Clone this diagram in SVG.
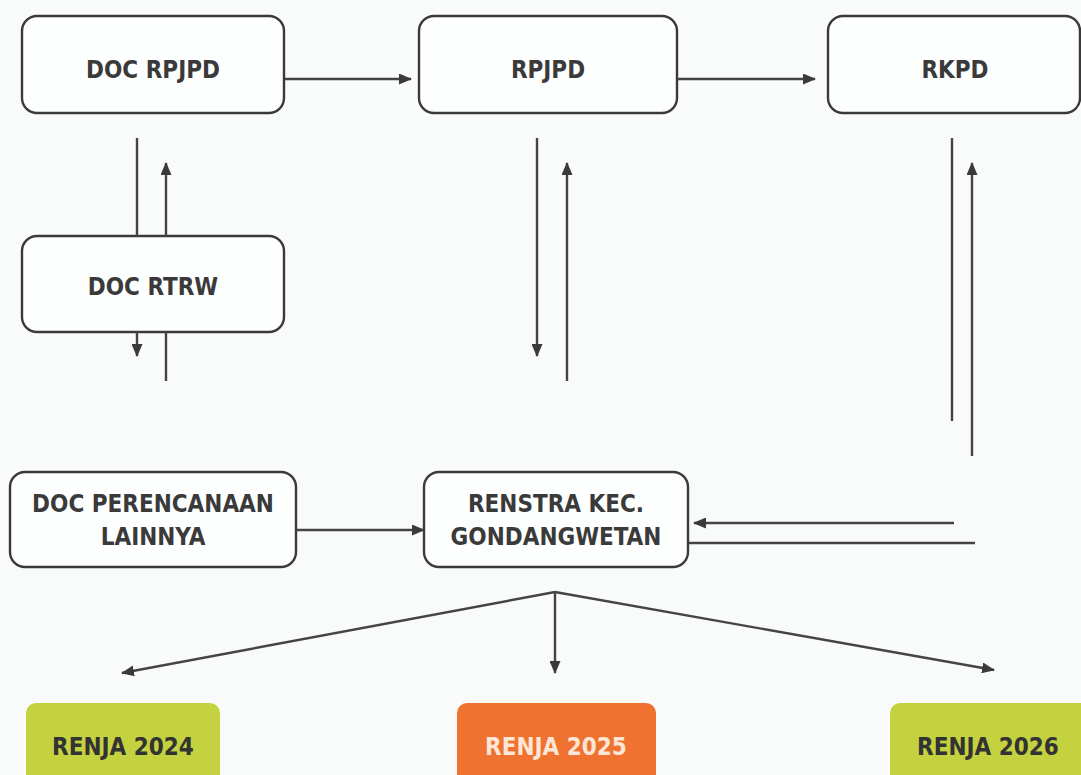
<svg xmlns="http://www.w3.org/2000/svg" width="1081" height="775" viewBox="0 0 1081 775">
<style>
.box{fill:#fdfefe;stroke:#3a3a3a;stroke-width:2.4}
.t{font-family:"DejaVu Sans Condensed","DejaVu Sans",sans-serif;font-size:24px;font-weight:bold;fill:#3a3a3a;text-anchor:middle}
.c{stroke:#444;stroke-width:2.4;fill:none}
</style>
<defs>
<marker id="ah" markerWidth="13" markerHeight="11" refX="12" refY="5.5" orient="auto" markerUnits="userSpaceOnUse">
<path d="M0,0 L13,5.5 L0,11 Z" fill="#3a3a3a"/>
</marker>
</defs>
<rect width="1081" height="775" fill="#f9fbfb"/>
<g id="n-doc-rpjpd"><rect class="box" x="22" y="16" width="262" height="97" rx="15"/><text class="t" x="153" y="78">DOC RPJPD</text></g>
<g id="n-rpjpd"><rect class="box" x="419" y="16" width="258" height="97" rx="15"/><text class="t" x="548" y="78">RPJPD</text></g>
<g id="n-rkpd"><rect class="box" x="828" y="16" width="252" height="97" rx="15"/><text class="t" x="955" y="78">RKPD</text></g>
<g id="n-doc-rtrw"><rect class="box" x="22" y="236" width="262" height="96" rx="15"/><text class="t" x="153" y="295">DOC RTRW</text></g>
<g id="n-doc-lain"><rect class="box" x="10" y="472" width="286" height="95" rx="15"/><text class="t" x="153" y="512">DOC PERENCANAAN</text><text class="t" x="153" y="545">LAINNYA</text></g>
<g id="n-renstra"><rect class="box" x="424" y="472" width="264" height="95" rx="15"/><text class="t" x="556" y="512">RENSTRA KEC.</text><text class="t" x="556" y="545">GONDANGWETAN</text></g>
<g id="n-renja2024"><rect x="26" y="703" width="194" height="90" rx="10" fill="#c4d23f"/><text class="t" x="123" y="755" style="fill:#333">RENJA 2024</text></g>
<g id="n-renja2025"><rect x="457" y="703" width="199" height="90" rx="10" fill="#ef7230"/><text class="t" x="556" y="755" style="fill:#fde6d6">RENJA 2025</text></g>
<g id="n-renja2026"><rect x="890" y="703" width="200" height="90" rx="10" fill="#c4d23f"/><text class="t" x="988" y="755" style="fill:#333">RENJA 2026</text></g>
<g id="connectors">
<line class="c" x1="285" y1="79" x2="411" y2="79" marker-end="url(#ah)"/>
<line class="c" x1="678" y1="79" x2="815" y2="79" marker-end="url(#ah)"/>
<line class="c" x1="137" y1="138" x2="137" y2="236"/>
<line class="c" x1="166" y1="236" x2="166" y2="163" marker-end="url(#ah)"/>
<line class="c" x1="137" y1="332" x2="137" y2="356" marker-end="url(#ah)"/>
<line class="c" x1="166" y1="332" x2="166" y2="381"/>
<line class="c" x1="537" y1="138" x2="537" y2="356" marker-end="url(#ah)"/>
<line class="c" x1="567" y1="381" x2="567" y2="163" marker-end="url(#ah)"/>
<line class="c" x1="952" y1="138" x2="952" y2="421"/>
<line class="c" x1="972" y1="456" x2="972" y2="163" marker-end="url(#ah)"/>
<line class="c" x1="297" y1="530" x2="424" y2="530" marker-end="url(#ah)"/>
<line class="c" x1="954" y1="523" x2="694" y2="523" marker-end="url(#ah)"/>
<line class="c" x1="689" y1="543" x2="975" y2="543"/>
<line class="c" x1="555" y1="592" x2="122" y2="673" marker-end="url(#ah)"/>
<line class="c" x1="555" y1="592" x2="555" y2="673" marker-end="url(#ah)"/>
<line class="c" x1="555" y1="592" x2="994" y2="670" marker-end="url(#ah)"/>
</g>
</svg>
